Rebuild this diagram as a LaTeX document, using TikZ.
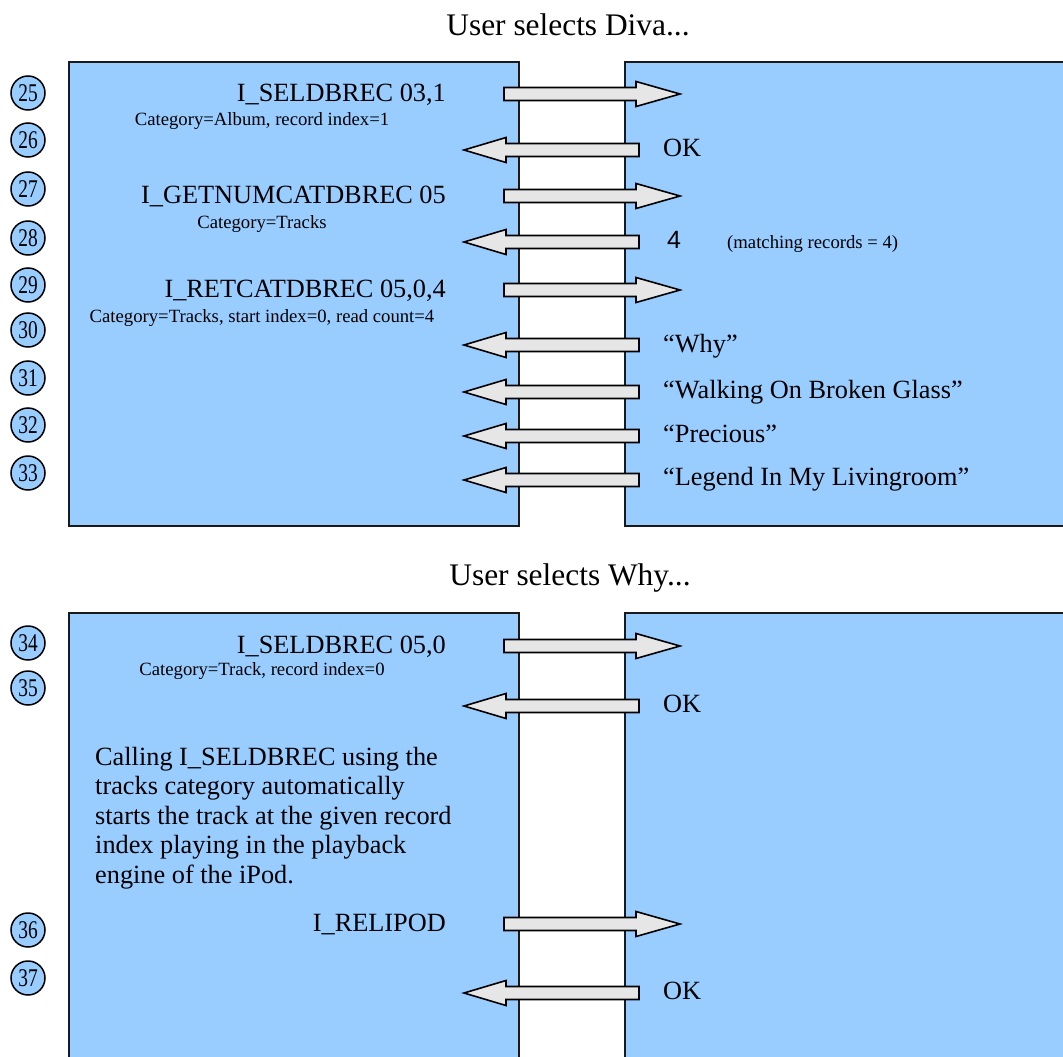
\documentclass[tikz,border=0pt]{standalone}
\usepackage{fontspec}
\setmainfont{Liberation Serif}
\newfontfamily\circlenumfont[FakeStretch=0.76]{Liberation Serif}
\newfontfamily\digitsansfont{Liberation Sans}
\definecolor{panelblue}{HTML}{99CCFF}
\definecolor{panelline}{HTML}{1A1A1A}
\definecolor{arrowgray}{HTML}{E6E6E6}
\tikzset{
  panel/.style={fill=panelblue, draw=panelline, line width=1.8pt},
  stepnum/.style={circle, draw=black, fill=panelblue, line width=1.5pt,
    minimum size=34pt, inner sep=0pt,
    font=\circlenumfont\fontsize{25.5}{26}\selectfont},
  msgarrow/.style={fill=arrowgray, draw=black, line width=1.6pt, line join=miter},
  cmdtext/.style={inner sep=0pt, anchor=base east, font=\fontsize{26.3}{29.5}\selectfont},
  argtext/.style={inner sep=0pt, anchor=base, font=\fontsize{18.7}{20}\selectfont},
  replytext/.style={inner sep=0pt, anchor=base west, font=\fontsize{26.3}{29.5}\selectfont},
  notetext/.style={inner sep=0pt, anchor=base west, font=\fontsize{18.7}{20}\selectfont},
  titletext/.style={inner sep=0pt, anchor=base, font=\fontsize{31.4}{34}\selectfont},
  pics/sendmsg/.style={code={
    \draw[msgarrow] (0,-6.5) -- (132,-6.5) -- (132,-12.5) -- (176,0)
      -- (132,12.5) -- (132,6.5) -- (0,6.5) -- cycle;}},
  pics/replymsg/.style={code={
    \draw[msgarrow] (0,-6.5) -- (-133,-6.5) -- (-133,-12.5) -- (-175,0)
      -- (-133,12.5) -- (-133,6.5) -- (0,6.5) -- cycle;}},
}
\begin{document}
\begin{tikzpicture}[x=1pt, y=-1pt]
\useasboundingbox (0,0) rectangle (1063,1057);
\clip (0,0) rectangle (1063,1057);

% section titles
\node[titletext] (title1) at (568,36) {User selects Diva...};
\node[titletext] (title2) at (570,585) {User selects Why...};

% host side and device side panels
\draw[panel] (69,62) rectangle (519,526);
\draw[panel] (625,62) rectangle (1080,526);
\draw[panel] (69,613) rectangle (519,1080);
\draw[panel] (625,613) rectangle (1080,1080);

% step numbers
\foreach \n/\y in {25/93, 26/140, 27/189, 28/238, 29/285, 30/330, 31/378,
                   32/425, 33/473, 34/643, 35/688, 36/930, 37/978}
  \node[stepnum] (step\n) at (28,\y) {\n};

% messages to the device
\foreach \y in {94, 196, 290, 646, 924}
  \pic at (504,\y) {sendmsg};
% replies from the device
\foreach \y in {150, 242, 345, 392, 436, 480, 706, 993}
  \pic at (639,\y) {replymsg};

% commands and their arguments
\node[cmdtext] (cmd25) at (446,102) {I\_SELDBREC 03,1};
\node[argtext] (arg25) at (262,125) {Category=Album, record index=1};
\node[cmdtext] (cmd27) at (446,203) {I\_GETNUMCATDBREC 05};
\node[argtext] (arg27) at (262,228) {Category=Tracks};
\node[cmdtext] (cmd29) at (446,297) {I\_RETCATDBREC 05,0,4};
\node[argtext] (arg29) at (262,322) {Category=Tracks, start index=0, read count=4};
\node[cmdtext] (cmd34) at (446,653) {I\_SELDBREC 05,0};
\node[argtext] (arg34) at (262,675) {Category=Track, record index=0};
\node[cmdtext] (cmd36) at (446,931) {I\_RELIPOD};

% replies
\node[replytext] (rep26) at (663,156) {OK};
\node[replytext, font=\digitsansfont\fontsize{25}{27}\selectfont] (rep28) at (667,248) {4};
\node[notetext] (note28) at (727,248) {(matching records = 4)};
\node[replytext] (rep30) at (663,352) {“Why”};
\node[replytext] (rep31) at (663,398) {“Walking On Broken Glass”};
\node[replytext] (rep32) at (663,442) {“Precious”};
\node[replytext] (rep33) at (663,485) {“Legend In My Livingroom”};
\node[replytext] (rep35) at (663,712) {OK};
\node[replytext] (rep37) at (663,999) {OK};

% explanatory note
\node[inner sep=0pt, anchor=north west, align=left,
      font=\fontsize{26.3}{29.5}\selectfont] (explain) at (95,747)
  {Calling I\_SELDBREC using the\\
   tracks category automatically\\
   starts the track at the given record\\
   index playing in the playback\\
   engine of the iPod.};
\end{tikzpicture}
\end{document}
